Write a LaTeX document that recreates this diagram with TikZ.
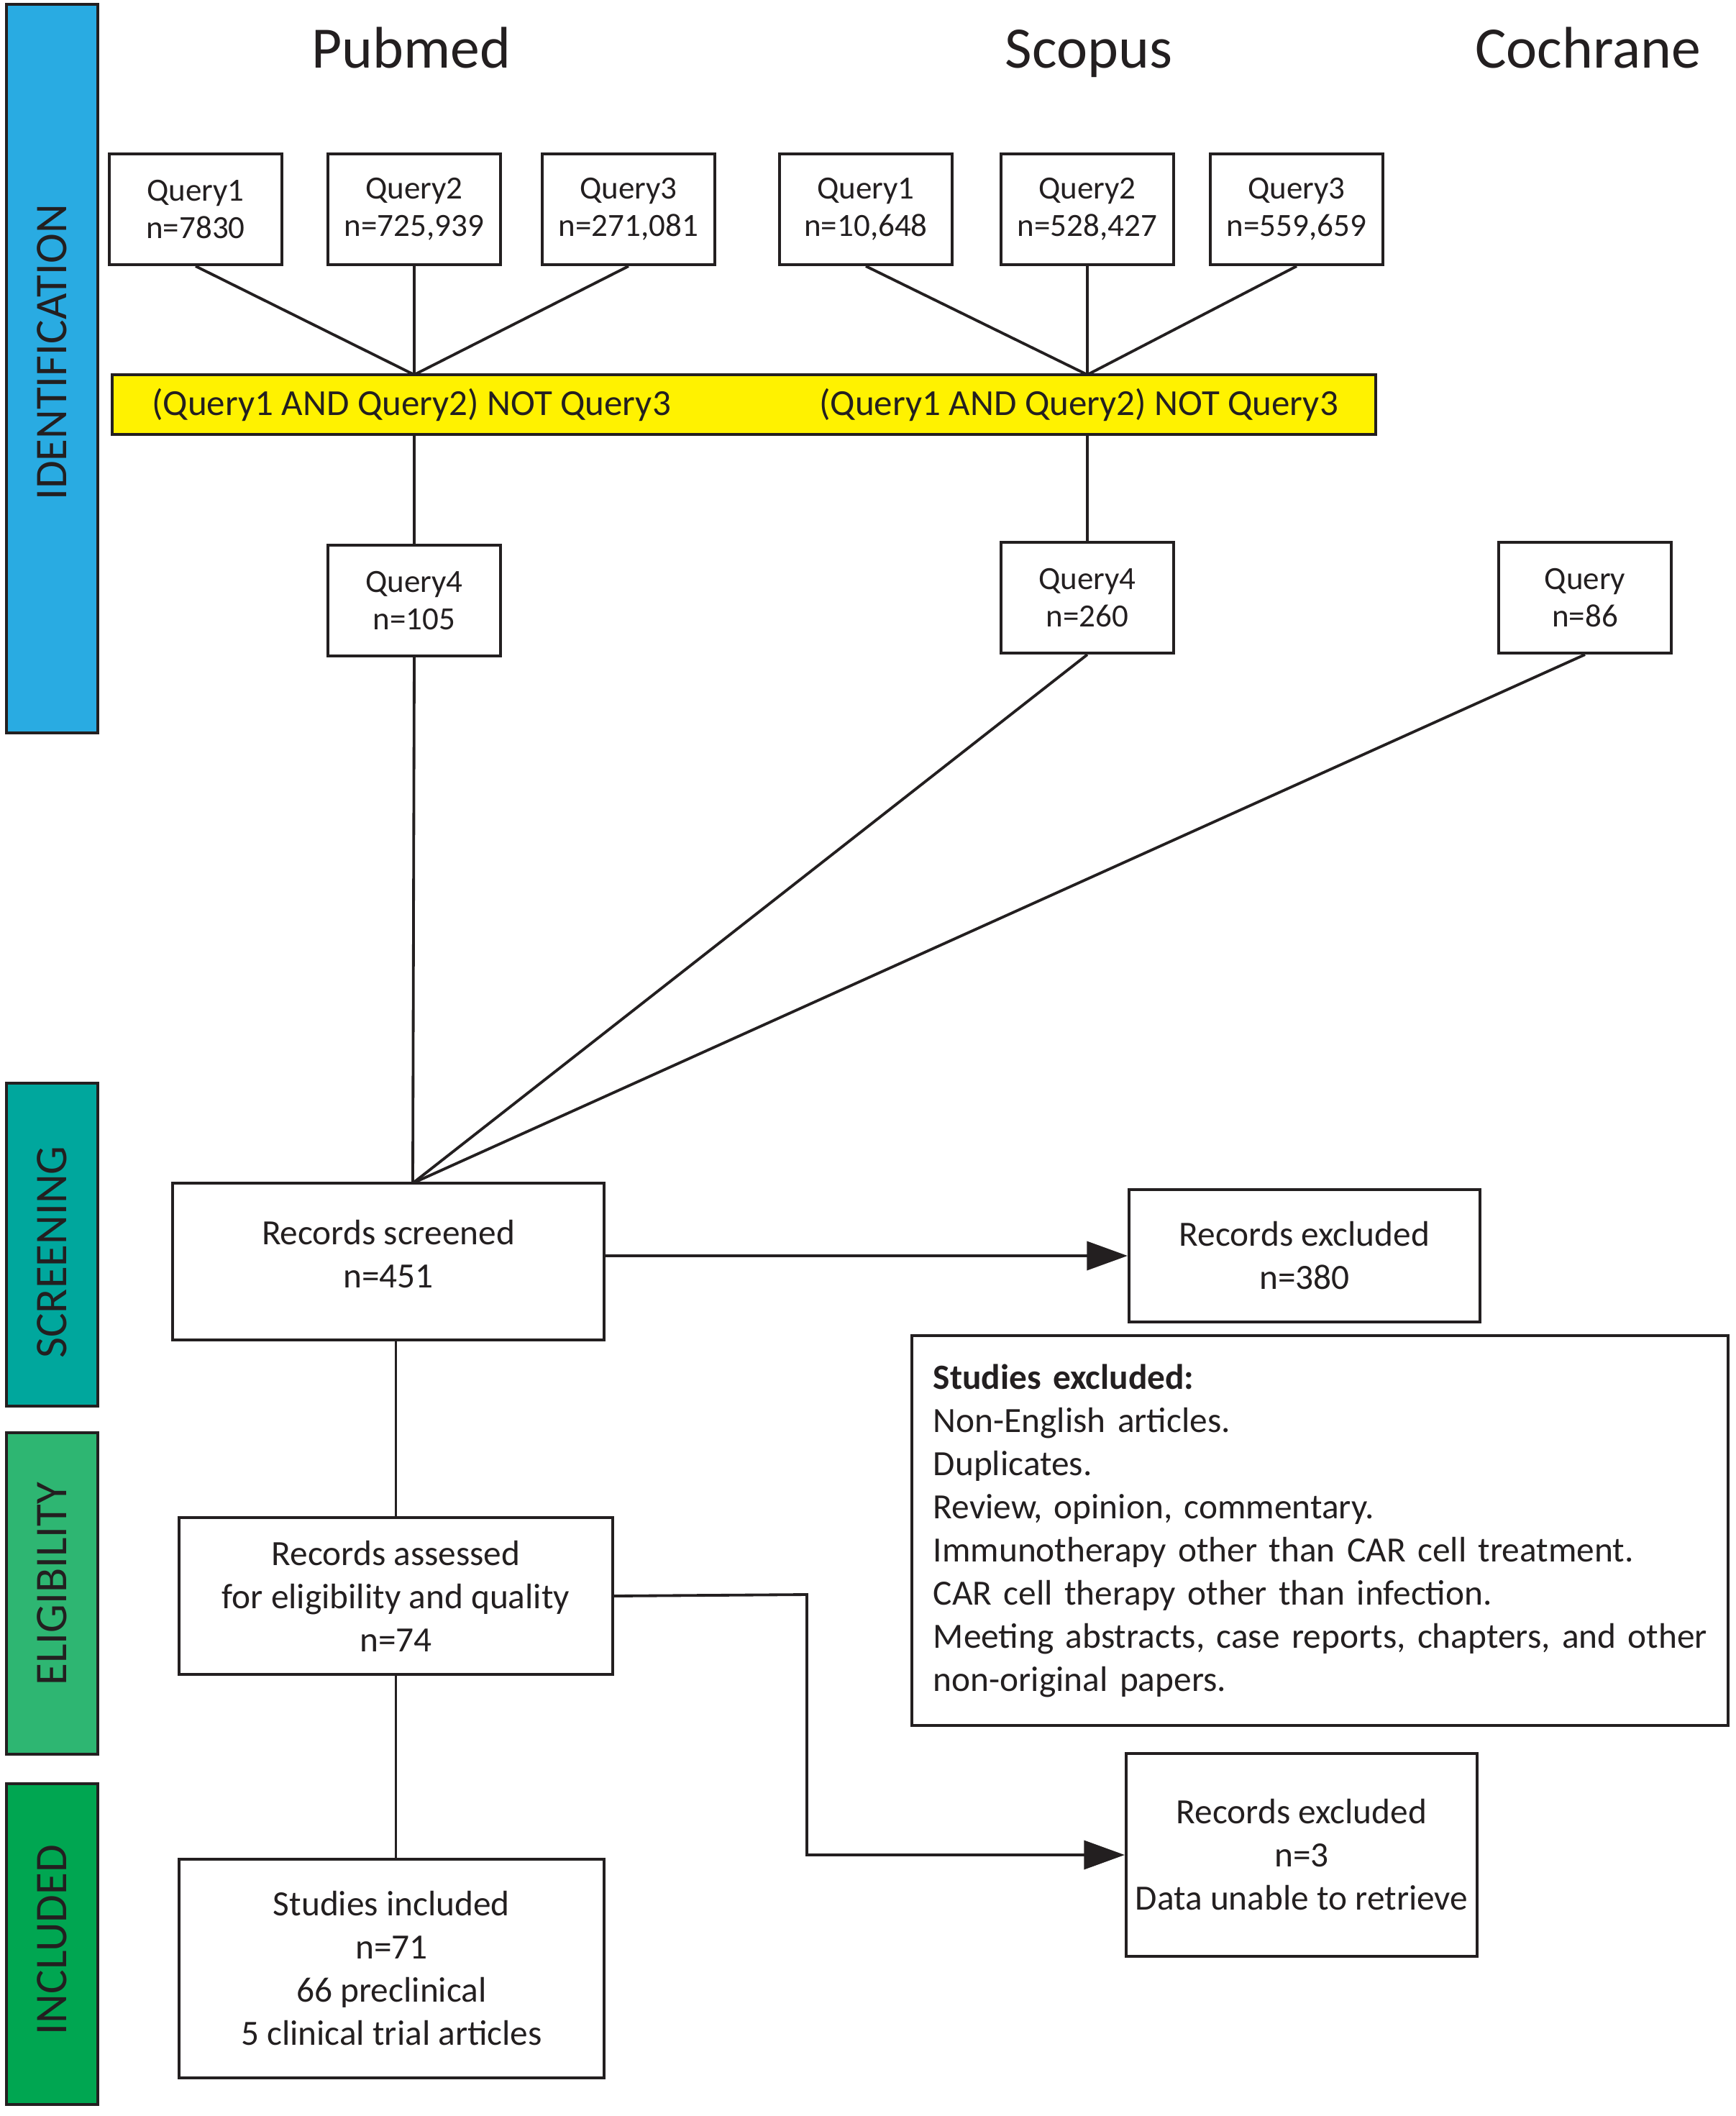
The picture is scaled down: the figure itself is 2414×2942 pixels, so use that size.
\documentclass[tikz,border=0pt]{standalone}
\usepackage{fontspec}
\setmainfont{Carlito}
\usetikzlibrary{arrows.meta}
\definecolor{txt}{HTML}{231F20}
\definecolor{idblue}{HTML}{29ABE2}
\definecolor{scteal}{HTML}{00A79D}
\definecolor{elgreen}{HTML}{2EB672}
\definecolor{ingreen}{HTML}{00A651}
\definecolor{qyellow}{HTML}{FFF200}
\begin{document}
\begin{tikzpicture}[x=0.3pt,y=-0.3pt,
  every node/.style={text=txt},
  qbox/.style={draw=txt, line width=1.25pt, fill=white, minimum width=72pt, minimum height=46.2pt, align=center, inner sep=1pt, font=\fontsize{13.5}{15.6}\selectfont},
  rbox/.style={draw=txt, line width=1.25pt, fill=white, align=center, inner sep=1pt, font=\fontsize{14.8}{18}\selectfont},
  bar/.style={draw=txt, line width=1.1pt, minimum width=38.1pt, inner sep=0pt},
  barlabel/.style={rotate=90, anchor=base, inner sep=0pt, font=\fontsize{18.9}{22}\selectfont},
  titletext/.style={anchor=base, inner sep=0pt, font=\fontsize{24.5}{28}\selectfont},
  ytext/.style={inner sep=0pt, font=\fontsize{15.3}{18}\selectfont},
  conn/.style={draw=txt, line width=1.15pt},
  arr/.style={conn, -{Triangle[length=17pt,width=12pt]}}
]
\useasboundingbox (0,0) rectangle (2414,2942);

% phase bars
\node[bar, fill=idblue, minimum height=303.9pt] (bid) at (72.5,512.5) {};
\node[bar, fill=scteal, minimum height=134.7pt] (bsc) at (72.5,1730.5) {};
\node[bar, fill=elgreen, minimum height=134.1pt] (bel) at (72.5,2215.5) {};
\node[bar, fill=ingreen, minimum height=133.8pt] (bin) at (72.5,2703) {};
\node[barlabel] (lid) at (92,490) {IDENTIFICATION};
\node[barlabel] (lsc) at (92,1741) {SCREENING};
\node[barlabel] (lel) at (92,2202) {ELIGIBILITY};
\node[barlabel] (lin) at (92,2697) {INCLUDED};

% titles
\node[titletext] (tpub) at (572,95) {Pubmed};
\node[titletext] (tsco) at (1514,95) {Scopus};
\node[titletext] (tcoc) at (2208,95) {Cochrane};

% query boxes
\node[qbox] (pq1) at (272,291) {Query1\\n=7830};
\node[qbox] (pq2) at (576,291) {Query2\\n=725,939};
\node[qbox] (pq3) at (874,291) {Query3\\n=271,081};
\node[qbox] (sq1) at (1204,291) {Query1\\n=10,648};
\node[qbox] (sq2) at (1512,291) {Query2\\n=528,427};
\node[qbox] (sq3) at (1803,291) {Query3\\n=559,659};

% yellow bar
\node[draw=txt, line width=1.25pt, fill=qyellow, minimum width=527.1pt, minimum height=24.9pt, inner sep=0pt] (yel) at (1034.5,562.5) {};
\node[ytext] (ytp) at (572,563) {(Query1 AND Query2) NOT Query3};
\node[ytext] (yts) at (1500,563) {(Query1 AND Query2) NOT Query3};
\coordinate (pj) at (576,521);
\coordinate (sj) at (1512,521);

\draw[conn] (pq1.south) -- (pj);
\draw[conn] (pq2.south) -- (pj);
\draw[conn] (pq3.south) -- (pj);
\draw[conn] (sq1.south) -- (sj);
\draw[conn] (sq2.south) -- (sj);
\draw[conn] (sq3.south) -- (sj);

% query4 boxes
\node[qbox] (pq4) at (576,835) {Query4\\n=105};
\node[qbox] (sq4) at (1512,831) {Query4\\n=260};
\node[qbox] (cq) at (2204,831) {Query\\n=86};
\draw[conn] (pq4.north |- yel.south) -- (pq4.north);
\draw[conn] (sq4.north |- yel.south) -- (sq4.north);

% screening
\node[rbox, minimum width=180pt, minimum height=65.4pt] (scr) at (540,1754) {Records screened\\n=451\vspace{6pt}};
\coordinate (jn) at (574,1645);
\draw[conn] (pq4.south) -- (jn);
\draw[conn] (sq4.south) -- (jn);
\draw[conn] (cq.south) -- (jn);

\node[rbox, minimum width=146.4pt, minimum height=55.2pt] (ex1) at (1814,1746) {Records excluded\\n=380};
\draw[arr] (scr.east |- ex1.west) -- (ex1.west);

\node[rbox, minimum width=340.5pt, minimum height=162.6pt, text width=325pt, inner xsep=7.75pt, align=left] (exs) at (1835.5,2128)
  {\hspace*{1.2pt}\textbf{Studies excluded:}\\
   \hspace*{1.2pt}Non-English articles.\\
   \hspace*{1.2pt}Duplicates.\\
   \hspace*{1.2pt}Review, opinion, commentary.\\
   \hspace*{1.2pt}Immunotherapy other than CAR cell treatment.\\
   \hspace*{1.2pt}CAR cell therapy other than infection.\\
   \hspace*{1.2pt}Meeting abstracts, case reports, chapters, and~other\\
   \hspace*{1.2pt}non-original papers.};

% eligibility
\node[rbox, minimum width=180.9pt, minimum height=65.4pt] (ass) at (550.5,2219) {Records assessed\\for eligibility and quality\\n=74};
\draw[conn] (ass.north |- scr.south) -- (ass.north);

\node[rbox, minimum width=146.4pt, minimum height=84.6pt] (ex2) at (1810,2579) {Records excluded\\n=3\\Data unable to retrieve};
\coordinate (k1) at (1122,2217);
\draw[arr] (ass.east) -- (k1) -- (k1 |- ex2.west) -- (ex2.west);

% included
\node[rbox, minimum width=177.3pt, minimum height=91.2pt] (inc) at (544.5,2737) {Studies included\\n=71\\66 preclinical\\5 clinical trial articles};
\draw[conn] (ass.south) -- (ass.south |- inc.north);
\end{tikzpicture}
\end{document}
